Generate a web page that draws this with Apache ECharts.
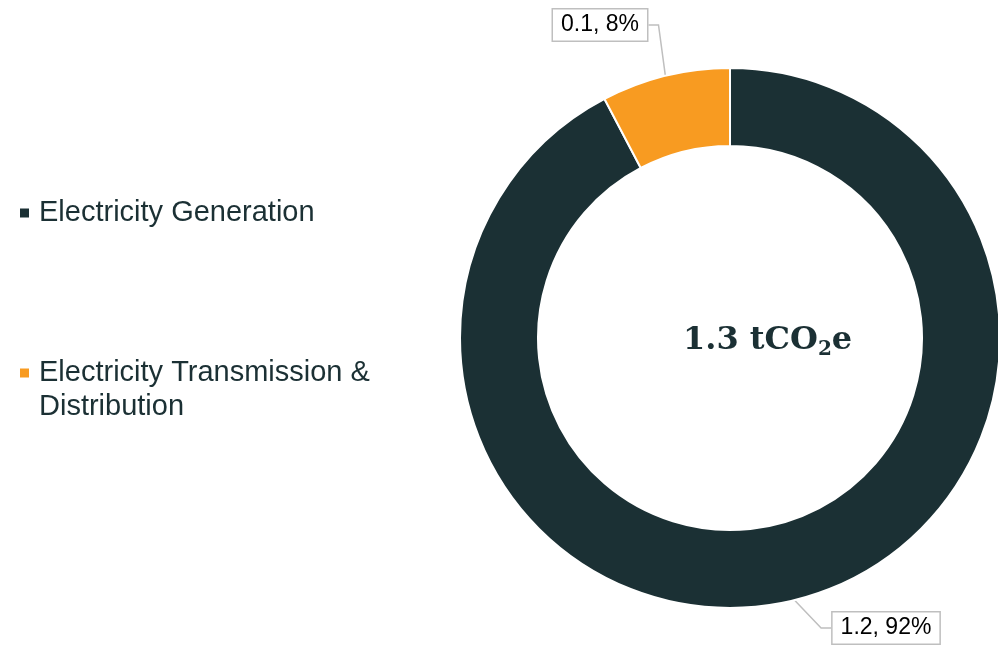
<!DOCTYPE html>
<html>
<head>
<meta charset="utf-8">
<script src="https://cdn.jsdelivr.net/npm/echarts@6/dist/echarts.min.js"></script>
<style>
  html, body { margin: 0; padding: 0; background: #fff; }
  #chart { width: 998px; height: 645px; }
</style>
</head>
<body>
<div id="chart"></div>
<script>
// 数据
var categories = ["Electricity Generation", "Electricity Transmission & Distribution"];
var emissions = [1.2, 0.1];
var colors = ["#1b3034", "#f89b21"];
var unitText = "tCO";

var total = emissions.reduce(function (a, b) { return a + b; }, 0);
var pieData = categories.map(function (name, i) {
  return { name: name, value: emissions[i] };
});

// 标签位置
var labelPos = [
  { x: 886, y: 628 },
  { x: 600, y: 25 }
];

var chart = echarts.init(document.getElementById('chart'));
var textColor = "#1b3034";
// 图例图标: 9px方块, 右侧留空白
var legendIcon = "path://M0,0h9v9h-9zM14,4.5L14,4.5";

var legendBase = {
  orient: "vertical",
  left: 15,
  icon: legendIcon,
  itemWidth: 14,
  itemHeight: 9,
  itemStyle: { borderWidth: 0 },
  textStyle: {
    color: textColor,
    fontFamily: "Liberation Sans, Arial, sans-serif",
    fontSize: 29,
    lineHeight: 34
  }
};

var option = {
  color: colors,
  animation: false,
  legend: [
    Object.assign({}, legendBase, {
      top: 191,
      data: [categories[0]]
    }),
    Object.assign({}, legendBase, {
      top: 317,
      formatter: function (name) {
        // 首行留空, 使图标对齐第一行文字
        return "\n" + name.replace("& ", "&\n");
      },
      data: [categories[1]]
    })
  ],
  graphic: [
    {
      type: "text",
      left: 683,
      top: 325,
      style: {
        text: "{a|" + total.toFixed(1) + " " + unitText + "}{b|2}{a|e}",
        rich: {
          a: {
            fontFamily: "DejaVu Serif, serif",
            fontWeight: "bold",
            fontSize: 32,
            fill: textColor,
            color: textColor
          },
          b: {
            fontFamily: "DejaVu Serif, serif",
            fontWeight: "bold",
            fontSize: 20,
            fill: textColor,
            color: textColor,
            padding: [18, 0, 0, 0]
          }
        }
      }
    }
  ],
  series: [
    {
      type: "pie",
      center: [730, 338],
      radius: [192, 270],
      startAngle: 90,
      clockwise: true,
      avoidLabelOverlap: false,
      itemStyle: {
        borderColor: "#fff",
        borderWidth: 2
      },
      label: {
        show: true,
        position: "outside",
        formatter: function (p) {
          return p.value + ", " + Math.round(p.percent) + "%";
        },
        color: "#000",
        fontFamily: "Liberation Sans, Arial, sans-serif",
        fontSize: 23,
        backgroundColor: "#fff",
        borderColor: "#bfbfbf",
        borderWidth: 1.5,
        padding: [5, 8, 3, 8]
      },
      labelLine: {
        show: true,
        length: 10,
        length2: 10,
        lineStyle: { color: "#bfbfbf", width: 1.5 }
      },
      labelLayout: function (params) {
        var pos = labelPos[params.dataIndex];
        return { x: pos.x, y: pos.y, align: "center", verticalAlign: "middle" };
      },
      emphasis: { disabled: true },
      data: pieData
    }
  ]
};

chart.setOption(option);
</script>
</body>
</html>
